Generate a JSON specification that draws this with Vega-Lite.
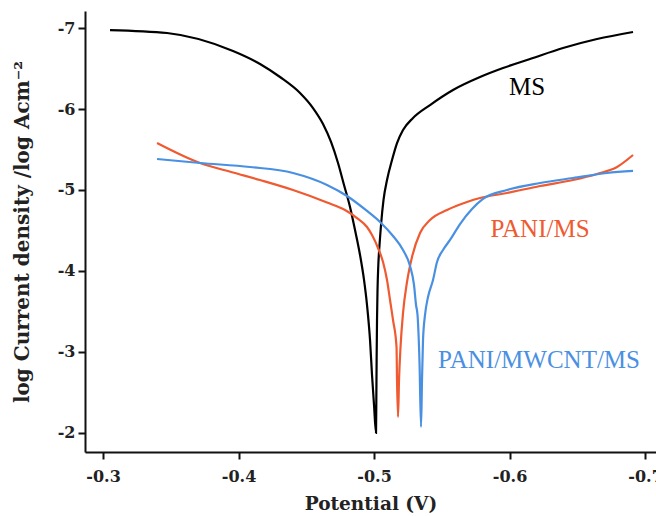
{
  "$schema": "https://vega.github.io/schema/vega-lite/v6.json",
  "width": 571,
  "height": 441,
  "autosize": {"type": "none"},
  "padding": {"left": 85, "top": 11, "right": 0, "bottom": 64},
  "background": "white",
  "config": {
    "view": {"stroke": null},
    "font": "DejaVu Serif",
    "axis": {
      "domainColor": "#111",
      "domainWidth": 2,
      "tickColor": "#111",
      "tickWidth": 2,
      "tickSize": 7,
      "grid": false,
      "labelFont": "DejaVu Serif",
      "labelFontWeight": "bold",
      "labelFontSize": 16,
      "labelColor": "#222",
      "titleFont": "DejaVu Serif",
      "titleFontWeight": "bold",
      "titleFontSize": 18.5,
      "titleColor": "#222"
    }
  },
  "datasets": {
    "curves": [
      {"s": "MS", "i": 1, "x": -0.30517, "y": -6.975},
      {"s": "MS", "i": 2, "x": -0.34723, "y": -6.938},
      {"s": "MS", "i": 3, "x": -0.39594, "y": -6.716},
      {"s": "MS", "i": 4, "x": -0.41587, "y": -6.556},
      {"s": "MS", "i": 5, "x": -0.43063, "y": -6.395},
      {"s": "MS", "i": 6, "x": -0.44539, "y": -6.198},
      {"s": "MS", "i": 7, "x": -0.45498, "y": -6.012},
      {"s": "MS", "i": 8, "x": -0.46236, "y": -5.815},
      {"s": "MS", "i": 9, "x": -0.46827, "y": -5.593},
      {"s": "MS", "i": 10, "x": -0.47343, "y": -5.333},
      {"s": "MS", "i": 11, "x": -0.47786, "y": -5.062},
      {"s": "MS", "i": 12, "x": -0.48229, "y": -4.790},
      {"s": "MS", "i": 13, "x": -0.48598, "y": -4.506},
      {"s": "MS", "i": 14, "x": -0.48967, "y": -4.198},
      {"s": "MS", "i": 15, "x": -0.49262, "y": -3.889},
      {"s": "MS", "i": 16, "x": -0.49483, "y": -3.580},
      {"s": "MS", "i": 17, "x": -0.49705, "y": -3.148},
      {"s": "MS", "i": 18, "x": -0.49852, "y": -2.716},
      {"s": "MS", "i": 19, "x": -0.50000, "y": -2.346},
      {"s": "MS", "i": 20, "x": -0.50148, "y": -2.000},
      {"s": "MS", "i": 21, "x": -0.50170, "y": -2.407},
      {"s": "MS", "i": 22, "x": -0.50192, "y": -2.901},
      {"s": "MS", "i": 23, "x": -0.50221, "y": -3.395},
      {"s": "MS", "i": 24, "x": -0.50258, "y": -3.765},
      {"s": "MS", "i": 25, "x": -0.50317, "y": -4.074},
      {"s": "MS", "i": 26, "x": -0.50406, "y": -4.321},
      {"s": "MS", "i": 27, "x": -0.50517, "y": -4.568},
      {"s": "MS", "i": 28, "x": -0.50701, "y": -4.877},
      {"s": "MS", "i": 29, "x": -0.50959, "y": -5.123},
      {"s": "MS", "i": 30, "x": -0.51328, "y": -5.370},
      {"s": "MS", "i": 31, "x": -0.51697, "y": -5.580},
      {"s": "MS", "i": 32, "x": -0.52140, "y": -5.741},
      {"s": "MS", "i": 33, "x": -0.52878, "y": -5.889},
      {"s": "MS", "i": 34, "x": -0.54133, "y": -6.049},
      {"s": "MS", "i": 35, "x": -0.55830, "y": -6.235},
      {"s": "MS", "i": 36, "x": -0.57823, "y": -6.395},
      {"s": "MS", "i": 37, "x": -0.59520, "y": -6.506},
      {"s": "MS", "i": 38, "x": -0.61513, "y": -6.617},
      {"s": "MS", "i": 39, "x": -0.63948, "y": -6.753},
      {"s": "MS", "i": 40, "x": -0.66458, "y": -6.864},
      {"s": "MS", "i": 41, "x": -0.69114, "y": -6.951},

      {"s": "PANI/MS", "i": 1, "x": -0.33985, "y": -5.580},
      {"s": "PANI/MS", "i": 2, "x": -0.37159, "y": -5.333},
      {"s": "PANI/MS", "i": 3, "x": -0.39594, "y": -5.216},
      {"s": "PANI/MS", "i": 4, "x": -0.41587, "y": -5.123},
      {"s": "PANI/MS", "i": 5, "x": -0.44022, "y": -5.000},
      {"s": "PANI/MS", "i": 6, "x": -0.46531, "y": -4.846},
      {"s": "PANI/MS", "i": 7, "x": -0.47860, "y": -4.753},
      {"s": "PANI/MS", "i": 8, "x": -0.48745, "y": -4.654},
      {"s": "PANI/MS", "i": 9, "x": -0.49483, "y": -4.543},
      {"s": "PANI/MS", "i": 10, "x": -0.49852, "y": -4.444},
      {"s": "PANI/MS", "i": 11, "x": -0.50295, "y": -4.284},
      {"s": "PANI/MS", "i": 12, "x": -0.50664, "y": -4.111},
      {"s": "PANI/MS", "i": 13, "x": -0.50959, "y": -3.889},
      {"s": "PANI/MS", "i": 14, "x": -0.51181, "y": -3.642},
      {"s": "PANI/MS", "i": 15, "x": -0.51402, "y": -3.395},
      {"s": "PANI/MS", "i": 16, "x": -0.51661, "y": -3.062},
      {"s": "PANI/MS", "i": 17, "x": -0.51697, "y": -2.654},
      {"s": "PANI/MS", "i": 18, "x": -0.51771, "y": -2.198},
      {"s": "PANI/MS", "i": 19, "x": -0.51845, "y": -2.654},
      {"s": "PANI/MS", "i": 20, "x": -0.51956, "y": -3.062},
      {"s": "PANI/MS", "i": 21, "x": -0.52140, "y": -3.481},
      {"s": "PANI/MS", "i": 22, "x": -0.52435, "y": -3.864},
      {"s": "PANI/MS", "i": 23, "x": -0.52804, "y": -4.173},
      {"s": "PANI/MS", "i": 24, "x": -0.53395, "y": -4.469},
      {"s": "PANI/MS", "i": 25, "x": -0.54133, "y": -4.630},
      {"s": "PANI/MS", "i": 26, "x": -0.55387, "y": -4.753},
      {"s": "PANI/MS", "i": 27, "x": -0.56863, "y": -4.852},
      {"s": "PANI/MS", "i": 28, "x": -0.57823, "y": -4.901},
      {"s": "PANI/MS", "i": 29, "x": -0.59815, "y": -4.963},
      {"s": "PANI/MS", "i": 30, "x": -0.62251, "y": -5.049},
      {"s": "PANI/MS", "i": 31, "x": -0.64686, "y": -5.123},
      {"s": "PANI/MS", "i": 32, "x": -0.66458, "y": -5.198},
      {"s": "PANI/MS", "i": 33, "x": -0.67934, "y": -5.284},
      {"s": "PANI/MS", "i": 34, "x": -0.69114, "y": -5.432},

      {"s": "PANI/MWCNT/MS", "i": 1, "x": -0.33985, "y": -5.383},
      {"s": "PANI/MWCNT/MS", "i": 2, "x": -0.37159, "y": -5.333},
      {"s": "PANI/MWCNT/MS", "i": 3, "x": -0.40849, "y": -5.284},
      {"s": "PANI/MWCNT/MS", "i": 4, "x": -0.44022, "y": -5.210},
      {"s": "PANI/MWCNT/MS", "i": 5, "x": -0.46531, "y": -5.062},
      {"s": "PANI/MWCNT/MS", "i": 6, "x": -0.48007, "y": -4.926},
      {"s": "PANI/MWCNT/MS", "i": 7, "x": -0.49483, "y": -4.741},
      {"s": "PANI/MWCNT/MS", "i": 8, "x": -0.50443, "y": -4.605},
      {"s": "PANI/MWCNT/MS", "i": 9, "x": -0.51402, "y": -4.432},
      {"s": "PANI/MWCNT/MS", "i": 10, "x": -0.52140, "y": -4.259},
      {"s": "PANI/MWCNT/MS", "i": 11, "x": -0.52657, "y": -4.062},
      {"s": "PANI/MWCNT/MS", "i": 12, "x": -0.52952, "y": -3.827},
      {"s": "PANI/MWCNT/MS", "i": 13, "x": -0.53100, "y": -3.580},
      {"s": "PANI/MWCNT/MS", "i": 14, "x": -0.53210, "y": -3.457},
      {"s": "PANI/MWCNT/MS", "i": 15, "x": -0.53358, "y": -2.864},
      {"s": "PANI/MWCNT/MS", "i": 16, "x": -0.53469, "y": -2.074},
      {"s": "PANI/MWCNT/MS", "i": 17, "x": -0.53542, "y": -2.654},
      {"s": "PANI/MWCNT/MS", "i": 18, "x": -0.53616, "y": -3.148},
      {"s": "PANI/MWCNT/MS", "i": 19, "x": -0.53764, "y": -3.457},
      {"s": "PANI/MWCNT/MS", "i": 20, "x": -0.53985, "y": -3.679},
      {"s": "PANI/MWCNT/MS", "i": 21, "x": -0.54354, "y": -3.889},
      {"s": "PANI/MWCNT/MS", "i": 22, "x": -0.54649, "y": -4.111},
      {"s": "PANI/MWCNT/MS", "i": 23, "x": -0.55092, "y": -4.259},
      {"s": "PANI/MWCNT/MS", "i": 24, "x": -0.55609, "y": -4.383},
      {"s": "PANI/MWCNT/MS", "i": 25, "x": -0.56347, "y": -4.580},
      {"s": "PANI/MWCNT/MS", "i": 26, "x": -0.57232, "y": -4.765},
      {"s": "PANI/MWCNT/MS", "i": 27, "x": -0.58044, "y": -4.889},
      {"s": "PANI/MWCNT/MS", "i": 28, "x": -0.59815, "y": -5.000},
      {"s": "PANI/MWCNT/MS", "i": 29, "x": -0.62251, "y": -5.086},
      {"s": "PANI/MWCNT/MS", "i": 30, "x": -0.64686, "y": -5.148},
      {"s": "PANI/MWCNT/MS", "i": 31, "x": -0.67196, "y": -5.210},
      {"s": "PANI/MWCNT/MS", "i": 32, "x": -0.69114, "y": -5.235}
    ],
    "labels": [
      {"s": "MS", "x": -0.6129, "y": -6.272},
      {"s": "PANI/MS", "x": -0.6225, "y": -4.518},
      {"s": "PANI/MWCNT/MS", "x": -0.6218, "y": -2.901}
    ]
  },
  "layer": [
    {
      "data": {"name": "curves"},
      "mark": {"type": "line", "strokeWidth": 2.2, "interpolate": "monotone"},
      "encoding": {
        "x": {
          "field": "x", "type": "quantitative",
          "scale": {"domain": [-0.7081, -0.2867], "reverse": true, "nice": false, "zero": false},
          "axis": {
            "values": [-0.3, -0.4, -0.5, -0.6, -0.7],
            "format": ".1f",
            "labelExpr": "replace(datum.label, '\u2212', '-')",
            "labelPadding": 9,
            "title": "Potential (V)",
            "titlePadding": 10
          }
        },
        "y": {
          "field": "y", "type": "quantitative",
          "scale": {"domain": [-7.21, -1.765], "reverse": true, "nice": false, "zero": false},
          "axis": {
            "values": [-7, -6, -5, -4, -3, -2],
            "format": "d",
            "labelExpr": "replace(datum.label, '\u2212', '-')",
            "labelPadding": 3,
            "title": "log Current density /log Acm⁻²",
            "titleFontSize": 20,
            "titlePadding": 25
          }
        },
        "color": {
          "field": "s", "type": "nominal",
          "scale": {"domain": ["MS", "PANI/MS", "PANI/MWCNT/MS"], "range": ["#000000", "#f05a30", "#4a90e2"]},
          "legend": null
        },
        "order": {"field": "i", "type": "quantitative"}
      }
    },
    {
      "data": {"name": "labels"},
      "mark": {"type": "text", "font": "Liberation Serif", "fontSize": 25, "align": "center", "baseline": "middle"},
      "encoding": {
        "x": {"field": "x", "type": "quantitative"},
        "y": {"field": "y", "type": "quantitative"},
        "text": {"field": "s"},
        "color": {"field": "s", "type": "nominal", "legend": null}
      }
    },
    {
      "mark": {"type": "rule", "color": "#111", "strokeWidth": 2},
      "encoding": {"y": {"datum": -7.21}}
    }
  ]
}
